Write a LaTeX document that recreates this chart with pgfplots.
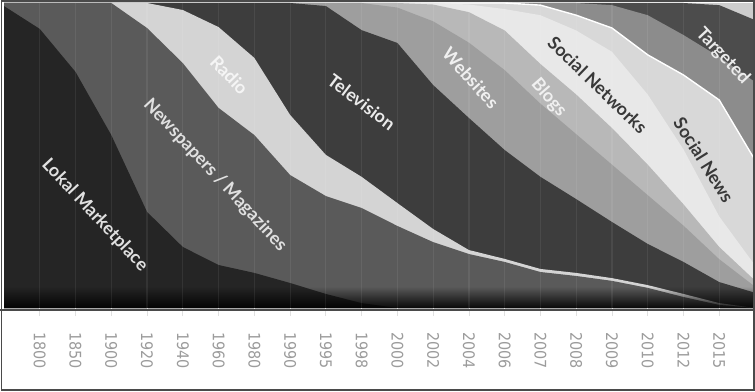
\documentclass[border=0pt]{standalone}
\usepackage{pgfplots}
\pgfplotsset{compat=1.18}
\usepackage{pgfplotstable}
\usepackage{fontspec}
\setmainfont{Lato}
\newfontfamily\tickfont{DejaVu Sans}[FakeStretch=0.9]
\usetikzlibrary{fadings}

\definecolor{lokal}{HTML}{252525}
\definecolor{news}{HTML}{5A5A5A}
\definecolor{radio}{HTML}{D4D4D4}
\definecolor{tv}{HTML}{3D3D3D}
\definecolor{web}{HTML}{9E9E9E}
\definecolor{blogs}{HTML}{B8B8B8}
\definecolor{socnet}{HTML}{E8E8E8}
\definecolor{socnews}{HTML}{D8D8D8}
\definecolor{midgrey}{HTML}{8C8C8C}
\definecolor{targeted}{HTML}{4C4C4C}
\definecolor{toplight}{HTML}{CDCDCD}
\definecolor{tickgrey}{HTML}{9C9C9C}
\definecolor{framegrey}{HTML}{4A4A4A}

% cumulative upper boundaries (percent of height) of each layer, bottom to top
\pgfplotstableread{
x  b1   b2   b3   b4   b5   b6   b7   b8   b9   b10
-1 99   100  100  100  100  100  100  100  100  100
0  91.5 100  100  100  100  100  100  100  100  100
1  77.4 100  100  100  100  100  100  100  100  100
2  56.7 100  100  100  100  100  100  100  100  100
3  31.5 91.8 100  100  100  100  100  100  100  100
4  20.0 80.3 97.7 100  100  100  100  100  100  100
5  14.1 65.6 92.1 100  100  100  100  100  100  100
6  11.5 56.7 82.0 100  100  100  100  100  100  100
7  8.2  43.6 63.3 100  100  100  100  100  100  100
8  4.6  36.7 50.2 99   100  100  100  100  100  100
9  1.6  32.8 43.0 91.1 100  100  100  100  100  100
10 0    26.9 34.4 86.9 98.5 100  100  100  100  100
11 0    21.6 25.9 73.1 94   99.5 100  100  100  100
12 0    17.7 19.0 62.3 87   97   99.5 100  100  100
13 0    15.1 16.1 51.8 78   91   98   100  100  100
14 0    11.8 12.8 43.0 67   80   96   99.3 100  100
15 0    10.5 11.5 35.7 57   70   91   96   100  100
16 0    8.9  9.8  28.2 47   59   84   91.8 99.3 100
17 0    6.6  7.5  21.0 37   47   70   83   96   100
18 0    3.6  4.6  15.1 27   34   52   76.4 89.5 100
19 0    1.0  1.6  8.5  16   20   30   68.2 82.3 99.3
20 0    0    0    5    7    9    14   48.5 74.1 94.4
}\bounds

\begin{document}
\begin{tikzpicture}
\useasboundingbox (-4bp,-84bp) rectangle (751bp,308bp);
\fill[white] (-4bp,-84bp) rectangle (751bp,308bp);
\begin{axis}[
  at={(0,0)}, anchor=south west,
  scale only axis, width=751bp, height=305bp,
  xmin=-1, xmax=20, ymin=0, ymax=100,
  axis line style={draw=none},
  axis background/.style={fill=toplight},
  ytick=\empty,
  xtick={0,...,19},
  xticklabels={1800,1850,1900,1920,1940,1960,1980,1990,1995,1998,2000,2002,2004,2006,2007,2008,2009,2010,2012,2015},
  xtick pos=bottom,
  tick align=outside,
  major tick length=8bp,
  x tick style={draw=black!12, line width=0.8pt},
  xticklabel style={rotate=-90, anchor=west, inner sep=0pt,
    font=\tickfont\fontsize{16}{16}\selectfont, text=tickgrey},
  xticklabel shift=16bp,
  xmajorgrids,
  grid style={white, opacity=0.07, line width=1.2pt},
  axis on top,
  clip=true,
]
\addplot[fill=targeted, draw=none] table[x=x,y=b10] {\bounds} \closedcycle;
\addplot[fill=midgrey, draw=none] table[x=x,y=b9] {\bounds} \closedcycle;
\addplot[fill=socnews, draw=white, line width=1.4pt] table[x=x,y=b8] {\bounds} \closedcycle;
\addplot[fill=socnet, draw=none] table[x=x,y=b7] {\bounds} \closedcycle;
\addplot[fill=blogs, draw=none] table[x=x,y=b6] {\bounds} \closedcycle;
\addplot[fill=web, draw=none] table[x=x,y=b5] {\bounds} \closedcycle;
\addplot[fill=tv, draw=none] table[x=x,y=b4] {\bounds} \closedcycle;
\addplot[fill=radio, draw=none] table[x=x,y=b3] {\bounds} \closedcycle;
\addplot[fill=news, draw=none] table[x=x,y=b2] {\bounds} \closedcycle;
\addplot[fill=lokal, draw=none] table[x=x,y=b1] {\bounds} \closedcycle;

\fill[black, path fading=north, opacity=0.9] (rel axis cs:0,0) rectangle (rel axis cs:1,0.07);

\begin{scope}[font=\fontsize{18}{18}\selectfont\bfseries]
\node[rotate=-47, text=white!88!black] at (axis cs:1.54,30.5) {Lokal Marketplace};
\node[rotate=-47, text=white!88!black] at (axis cs:4.9,43.6) {Newspapers / Magazines};
\node[rotate=-46, text=white!96!black] at (axis cs:5.3,76.4) {Radio};
\node[rotate=-37, text=white!92!black] at (axis cs:9.0,67.5) {Television};
\node[rotate=-48, text=white!94!black] at (axis cs:12.05,75.4) {Websites};
\node[rotate=-49, text=white!94!black] at (axis cs:14.23,68.9) {Blogs};
\node[rotate=-44, text=black!78] at (axis cs:15.6,73.1) {Social Networks};
\node[rotate=-58, text=black!78] at (axis cs:18.57,48.5) {Social News};
\node[rotate=-47, text=white!92!black] at (axis cs:19.1,82.6) {Targeted};
\end{scope}
\end{axis}
\draw[line width=2.5bp, framegrey] (-4bp,-1.8bp) -- (751bp,-1.8bp);
\draw[line width=1.5bp, framegrey] (-2.5bp,-82bp) rectangle (750bp,307bp);
\end{tikzpicture}
\end{document}
